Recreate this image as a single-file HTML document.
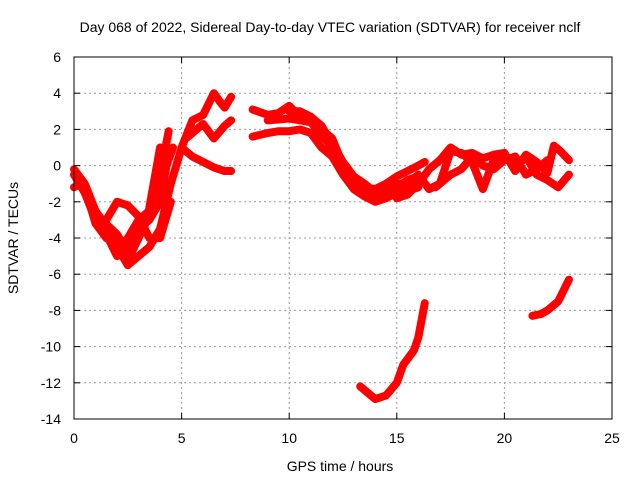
<!DOCTYPE html>
<html><head><meta charset="utf-8"><style>
body{margin:0;background:#fff}
svg{display:block;font-family:"Liberation Sans",sans-serif}
</style></head><body>
<svg width="640" height="480">
<rect width="640" height="480" fill="#fff"/>
<text x="330" y="32" text-anchor="middle" font-size="14" fill="#000">Day 068 of 2022, Sidereal Day-to-day VTEC variation (SDTVAR) for receiver nclf</text>
<text x="340" y="471" text-anchor="middle" font-size="14">GPS time / hours</text>
<text transform="translate(18,238) rotate(-90)" text-anchor="middle" font-size="14">SDTVAR / TECUs</text>
<g id="grid"></g>
<g id="ticks"></g>
<g id="series"></g>
<rect x="74" y="57" width="538" height="362" fill="none" stroke="#000" stroke-width="1"/>
</svg>
<script>
const xTicks=[0,5,10,15,20,25];
const yTicks=[6,4,2,0,-2,-4,-6,-8,-10,-12,-14];
const sA1=[[0,-0.5],[0.5,-1.5],[1,-3],[1.5,-3.5],[2,-4.5],[2.5,-5.5],[3,-5],[3.5,-4.5],[4,-3.5],[4.5,-1],[5,1],[5.5,2.5],[6,2.8],[6.5,4],[6.8,3.5],[7,3.2],[7.3,3.8]];
const sA2=[[0,-0.2],[0.5,-1],[1,-2.5],[1.5,-3.8],[2,-5],[2.5,-4],[3,-3],[3.5,-2.5],[3.8,-1.5],[4,-0.5],[4.4,1.9]];
const sA3=[[1.5,-3],[2,-2],[2.5,-2.2],[3,-2.8],[3.5,-4],[4,-4],[4.5,-2]];
const sA4=[[0.2,-0.8],[0.8,-2.2],[1.3,-3],[2,-3.8],[2.6,-5],[3,-4],[3.4,-3],[3.7,-1],[4,1]];
const sA7=[[0,-1.2],[0.3,-1],[0.7,-2],[1,-3.2],[1.5,-4],[2,-4.3],[2.5,-4.8],[3,-3.5],[3.5,-3],[4,-2],[4.3,0],[4.6,1]];
const sA5=[[5,1],[5.5,0.5],[6,0.2],[6.5,-0.1],[7,-0.3],[7.3,-0.3]];
const sA6=[[5.2,1.5],[5.5,1.8],[6,2.3],[6.5,1.5],[7,2.2],[7.3,2.5]];
const sM1=[[8.3,3.1],[9,2.8],[9.5,2.9],[10,3.3],[10.5,2.7],[11,2.5],[11.5,2],[12,1.5],[12.5,0],[13,-0.8],[13.5,-1.2],[14,-1.3],[14.5,-1],[15,-0.6],[15.5,-0.3],[16,0],[16.3,0.2]];
const sM2=[[8.3,1.6],[9,1.8],[9.5,1.9],[10,1.9],[10.5,2],[11,1.8],[11.5,1],[12,0.5],[12.5,-0.5],[13,-1.3],[13.5,-1.7],[14,-2],[14.5,-1.8],[15,-1.5],[15.5,-1.4],[16,-1.2]];
const sM6=[[10,3],[10.5,3],[11,2.7],[11.5,2.2],[12,1.2],[12.5,0.2],[13,-0.6],[13.5,-1],[14,-1.5],[14.5,-1.2],[15,-1.2],[15.5,-0.8],[16,-0.6]];
const sM3=[[9,2.5],[10,2.6],[11,2.4],[12,1],[12.5,-0.3],[13,-1.1],[14,-1.6],[14.5,-1.4],[15,-1],[15.5,-1],[16,-0.5],[16.5,-1.3],[17,-1],[17.5,0.8],[18,0.7],[18.5,0.2],[19,-1.3],[19.5,0.3],[20,0.5],[20.5,0],[21,0.5],[21.5,-0.5],[22,-0.8],[22.5,-1.2],[23,-0.5]];
const sM4=[[15,-1.8],[15.5,-1.6],[16,-1],[16.5,-0.2],[17,0.3],[17.5,1],[18,0.6],[18.5,0.7],[19,0.4],[19.5,0.6],[20,0.7],[20.5,-0.3],[21,0.6],[21.5,0.2],[22,-0.4],[22.3,1.1],[22.6,0.8],[23,0.3]];
const sM5=[[16.8,-1.2],[17.5,-0.5],[18,-0.2],[18.5,0.5],[19,0],[19.5,-0.2],[20,0.3],[20.5,0.5],[21,-0.5],[21.5,-0.2],[22,0.3]];
const sB1=[[13.3,-12.2],[13.7,-12.6],[14,-12.9],[14.5,-12.7],[15,-12],[15.3,-11],[15.8,-10.2],[16,-9.5],[16.3,-7.6]];
const sB2=[[21.3,-8.3],[21.7,-8.2],[22,-8],[22.5,-7.5],[23,-6.3]];
const allSeries=[sA1,sA2,sA3,sA4,sA7,sA5,sA6,sM1,sM2,sM6,sM3,sM4,sM5,sB1,sB2];
const X=v=>74+v*538/25, Y=v=>57+(6-v)*362/20;
const NS="http://www.w3.org/2000/svg";
const grid=document.getElementById('grid'),ticks=document.getElementById('ticks'),ser=document.getElementById('series');
function mk(tag,attrs,parent){const e=document.createElementNS(NS,tag);for(const k in attrs)e.setAttribute(k,attrs[k]);parent.appendChild(e);return e;}
xTicks.forEach(t=>{
  if(t>0&&t<25){const g=mk('line',{x1:X(t),x2:X(t),y1:57,y2:419,stroke:'#999','stroke-dasharray':'2,3'},grid);
  
  }
  const tk=mk('text',{x:X(t),y:443,'text-anchor':'middle','font-size':14},ticks);tk.textContent=t;
  
  
  mk('line',{x1:X(t),x2:X(t),y1:419,y2:413,stroke:'#000'},ticks);
  mk('line',{x1:X(t),x2:X(t),y1:57,y2:63,stroke:'#000'},ticks);
});
yTicks.forEach(t=>{
  if(t<6&&t>-14){const g=mk('line',{x1:74,x2:612,y1:Y(t),y2:Y(t),stroke:'#999','stroke-dasharray':'2,3'},grid);
  
  }
  const tk=mk('text',{x:61,y:Y(t)+5,'text-anchor':'end','font-size':14},ticks);tk.textContent=t;
  
  
  mk('line',{x1:74,x2:80,y1:Y(t),y2:Y(t),stroke:'#000'},ticks);
  mk('line',{x1:612,x2:606,y1:Y(t),y2:Y(t),stroke:'#000'},ticks);
});
allSeries.forEach(s=>{
  const p=mk('polyline',{points:s.map(d=>X(d[0])+','+Y(d[1])).join(' '),fill:'none',stroke:'#f00','stroke-width':8,'stroke-linejoin':'round','stroke-linecap':'round'},ser);
  
  
});
</script>
</body></html>
